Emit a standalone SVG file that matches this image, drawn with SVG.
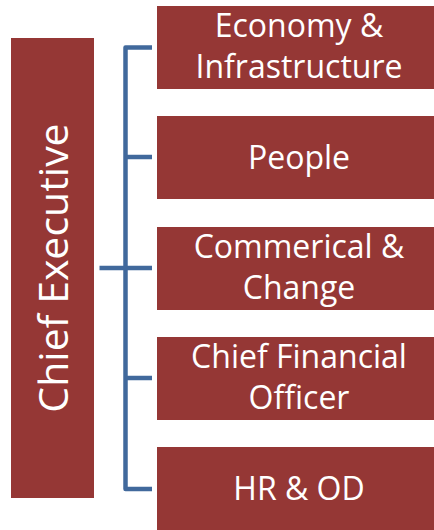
<svg xmlns="http://www.w3.org/2000/svg" width="434" height="530" viewBox="0 0 434 530">
<style>
.box{fill:#953735;}
.lbl{fill:#ffffff;font-family:"Open Sans","Liberation Sans",sans-serif;font-size:32px;text-anchor:middle;}
.ce{font-size:41px;}
.conn{fill:none;stroke:#41699c;stroke-width:4.5;stroke-linejoin:round;}
</style>
<rect width="434" height="530" fill="#ffffff"/>
<g id="connectors">
<path class="conn" d="M152,47.5 H125.5 V489 H152"/>
<path class="conn" d="M125.5,157 H152"/>
<path class="conn" d="M99.5,268 H152"/>
<path class="conn" d="M125.5,378 H152"/>
</g>
<g id="chief-executive">
<rect class="box" x="11" y="38" width="83" height="460"/>
<text class="lbl ce" transform="translate(68,268) rotate(-90)">Chief Executive</text>
</g>
<g id="economy">
<rect class="box" x="157" y="6" width="284" height="83"/>
<text class="lbl" x="299" y="37">Economy &amp;</text>
<text class="lbl" x="299" y="78">Infrastructure</text>
</g>
<g id="people">
<rect class="box" x="157" y="116" width="284" height="83"/>
<text class="lbl" x="299" y="168.5">People</text>
</g>
<g id="commercial">
<rect class="box" x="157" y="227" width="284" height="83"/>
<text class="lbl" x="299" y="258">Commerical &amp;</text>
<text class="lbl" x="299" y="299">Change</text>
</g>
<g id="cfo">
<rect class="box" x="157" y="337" width="284" height="83"/>
<text class="lbl" x="299" y="368">Chief Financial</text>
<text class="lbl" x="299" y="408.5">Officer</text>
</g>
<g id="hr">
<rect class="box" x="157" y="447" width="284" height="83"/>
<text class="lbl" x="299" y="499.5">HR &amp; OD</text>
</g>
</svg>
